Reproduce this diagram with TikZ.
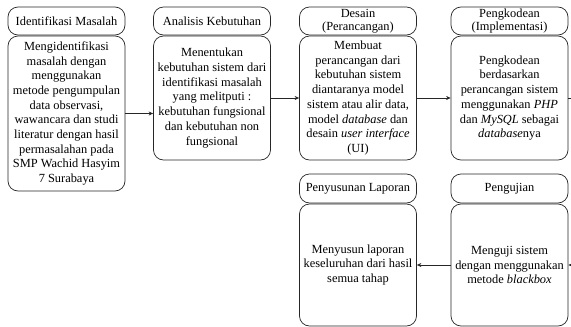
\documentclass[tikz,border=0pt]{standalone}
\usepackage{fontspec}
\setmainfont{Liberation Serif}
\usetikzlibrary{arrows.meta}
\begin{document}
\begin{tikzpicture}[x=1pt,y=1pt,
  box/.style={draw=black!85, line width=0.7pt, rounded corners=10pt, inner sep=0pt,
    minimum width=117pt, align=center, font=\fontsize{12.4}{14.7}\selectfont},
  headbox/.style={box, minimum height=28pt},
  bodybox/.style={box},
  conn/.style={draw=black!85, line width=0.7pt, -{Stealth[length=4.5pt,width=4pt]}}
]
\useasboundingbox (0,0) rectangle (571,-327);
% row 1 headers
\node[headbox] (h1) at (66.5,-21) {Identifikasi Masalah};
\node[headbox] (h2) at (212,-21) {Analisis Kebutuhan};
\node[headbox] (h3) at (358,-21) {Desain\\[-1.5pt](Perancangan)};
\node[headbox] (h4) at (509.5,-21) {Pengkodean\\[-1.5pt](Implementasi)};
% row 1 bodies
\node[bodybox, minimum height=155pt] (b1) at (66.5,-113.5) {Mengidentifikasi\\masalah dengan\\menggunakan\\metode pengumpulan\\data observasi,\\wawancara dan studi\\literatur dengan hasil\\permasalahan pada\\SMP Wachid Hasyim\\7 Surabaya};
\node[bodybox, minimum height=124pt] (b2) at (212,-98) {Menentukan\\kebutuhan sistem dari\\identifikasi masalah\\yang melitputi :\\kebutuhan fungsional\\dan kebutuhan non\\fungsional};
\node[bodybox, minimum height=124pt] (b3) at (358,-98) {Membuat\\perancangan dari\\kebutuhan sistem\\diantaranya model\\sistem atau alir data,\\model \textit{database} dan\\desain \textit{user interface}\\(UI)};
\node[bodybox, minimum height=124pt] (b4) at (509.5,-98) {Pengkodean\\berdasarkan\\perancangan sistem\\menggunakan \textit{PHP}\\dan \textit{MySQL} sebagai\\\textit{database}nya};
% row 2
\node[headbox, minimum height=29pt] (h5) at (358,-188.5) {Penyusunan Laporan};
\node[headbox, minimum height=29pt] (h6) at (509.5,-188.5) {Pengujian};
\node[bodybox, minimum height=122pt] (b5) at (358,-265) {Menyusun laporan\\keseluruhan dari hasil\\semua tahap};
\node[bodybox, minimum height=122pt] (b6) at (509.5,-265) {Menguji sistem\\dengan menggunakan\\metode \textit{blackbox}};
% connectors
\draw[conn] (b1.east) -- (b1.east -| b2.west);
\draw[conn] (b2.east) -- (b3.west);
\draw[conn] (b3.east) -- (b4.west);
\coordinate (r1) at (585,-98);
\coordinate (r2) at (585,-265);
\draw[conn] (b4.east) -- (r1) -- (r2) -- (b6.east);
\draw[conn] (b6.west) -- (b5.east);
\end{tikzpicture}
\end{document}
